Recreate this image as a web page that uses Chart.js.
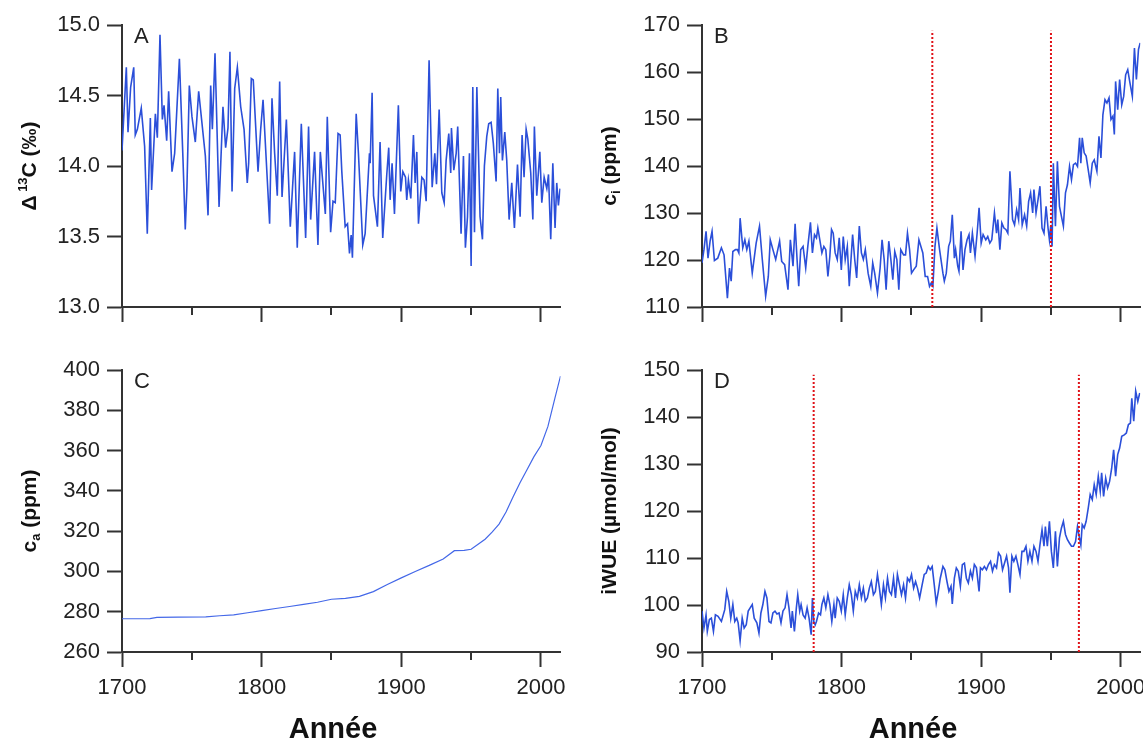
<!DOCTYPE html>
<html><head><meta charset="utf-8">
<script src="https://cdn.jsdelivr.net/npm/chart.js@4.4.1/dist/chart.umd.min.js"></script>
<style>
html,body{margin:0;padding:0;background:#fff;width:1143px;height:740px;overflow:hidden;}
canvas{position:absolute;}
</style></head><body>
<canvas id="cA" width="571" height="330" style="left:0;top:0;width:571px;height:330px"></canvas>
<canvas id="cB" width="572" height="330" style="left:571px;top:0;width:572px;height:330px"></canvas>
<canvas id="cC" width="571" height="410" style="left:0;top:330px;width:571px;height:410px"></canvas>
<canvas id="cD" width="572" height="410" style="left:571px;top:330px;width:572px;height:410px"></canvas>
<script>
// ---------- DATA ----------
const xTicks = [1700, 1750, 1800, 1850, 1900, 1950, 2000];
const minorX = [1750, 1850, 1950];

// Panel A : Delta13C (permil)
const yearsA = [
1700.0,1703.1,1704.3,1706.2,1708.4,1709.5,1711.0,1713.8,1716.2,1718.1,
1720.3,1721.2,1723.9,1725.3,1727.2,1728.9,1730.1,1732.0,1733.4,1735.8,
1737.7,1741.1,1743.7,1745.3,1746.5,1748.2,1750.1,1752.5,1754.9,1759.7,
1761.6,1763.5,1764.7,1766.6,1769.5,1772.3,1774.2,1775.9,1777.3,1778.8,
1780.7,1782.6,1785.0,1787.4,1789.7,1790.7,1792.6,1794.0,1797.4,1799.3,
1801.0,1805.7,1807.4,1809.3,1811.2,1812.9,1814.6,1817.7,1820.5,1823.6,
1825.5,1828.4,1831.5,1833.6,1835.1,1837.9,1840.3,1842.0,1845.6,1847.0,
1849.4,1851.1,1852.7,1854.7,
1856.2,1857.4,1859.8,1861.5,1862.9,1864.1,1865.0,1867.7,1869.3,1872.4,
1874.1,1877.2,1877.7,1879.1,1880.1,1882.9,1884.8,1886.7,1889.6,1891.0,
1892.0,1893.4,1895.1,1897.9,1899.6,1901.1,1903.0,1903.9,1905.1,1906.8,
1908.7,1909.9,1911.1,1912.3,1914.7,1916.3,1917.8,1919.9,1922.1,1924.0,
1925.2,1927.1,1929.0,1930.7,1932.1,1934.0,1935.4,1935.9,1937.6,1939.3,
1940.4,1942.8,1944.5,1945.9,1947.4,1948.8,1950.0,1951.2,1952.4,1954.1,
1956.4,1958.1,1959.5,1961.2,1962.6,1964.3,1965.9,1967.9,1969.1,1970.3,
1971.2,1972.4,1974.1,1975.5,1977.2,1979.1,1981.0,1983.2,1985.1,1986.5,
1987.9,1989.4,1990.6,1992.7,1994.2,1995.3,1997.0,1999.2,2000.6,2002.3,
2004.2,2005.4,2007.0,2008.5,2010.1,2011.3,2012.5,2013.7];
const d13C = [
14.11,14.70,14.24,14.56,14.70,14.22,14.26,14.41,14.14,13.52,
14.34,13.83,14.37,14.20,14.93,14.33,14.43,14.18,14.53,13.96,
14.09,14.76,14.04,13.55,13.85,14.57,14.35,14.17,14.53,14.07,
13.65,14.57,14.26,14.80,13.71,14.42,14.13,14.27,14.81,13.82,
14.55,14.70,14.42,14.26,13.88,14.02,14.62,14.61,13.96,14.26,
14.47,13.59,14.48,14.09,13.79,14.60,13.78,14.33,13.57,14.10,
13.42,14.30,13.49,14.28,13.62,14.10,13.44,14.10,13.66,14.35,
13.53,13.75,13.74,14.23,
14.22,13.96,13.57,13.59,13.38,13.51,13.35,14.37,14.09,13.44,
13.52,14.09,14.02,14.52,13.79,13.57,14.17,13.49,13.94,14.13,
13.76,14.02,13.66,14.43,13.82,13.96,13.92,13.76,13.90,13.77,
14.22,13.88,14.10,13.59,13.92,13.90,13.75,14.75,13.85,14.09,
13.87,14.40,13.81,13.74,14.04,14.23,13.95,14.27,13.97,14.09,
14.28,13.52,14.07,13.42,13.64,14.09,13.29,14.56,13.53,14.56,
13.64,13.48,14.00,14.21,14.30,14.31,14.16,13.89,14.55,14.09,
14.49,14.04,14.24,14.04,13.62,13.88,13.56,14.01,13.64,14.22,
13.92,14.26,14.19,13.95,13.62,14.28,13.79,14.10,13.74,13.92,
13.84,13.94,13.48,14.02,13.56,13.88,13.72,13.84];
const yTicksA = [13.0, 13.5, 14.0, 14.5, 15.0];

// Panel B : ci (ppm)
const yearsB = [
1700.0,1701.4,1702.9,1704.3,1705.8,1707.2,1708.9,1711.3,1713.9,1715.8,
1718.2,1719.7,1720.9,1722.1,1724.0,1725.4,1726.4,1727.3,1729.2,1730.7,
1732.1,1733.6,1736.0,1738.8,1741.2,1743.2,1745.6,1747.5,1748.9,1750.8,
1752.8,1755.6,1757.1,1759.2,1761.6,1763.3,1765.2,1766.7,1768.1,1769.3,
1770.7,1772.4,1774.3,1775.8,1777.7,1779.1,1780.6,1782.0,1783.0,1784.4,
1785.9,1787.3,1788.7,1790.2,1791.6,1792.8,1794.0,1795.4,1796.9,1798.3,
1799.8,1801.2,1802.6,1804.1,1805.5,1807.9,1809.4,1810.8,1812.7,1814.2,
1815.6,1817.0,1819.0,1820.9,1822.3,1823.7,1825.7,1827.6,1829.0,1830.5,
1831.9,1833.8,1835.3,1836.7,1838.1,1839.6,1841.0,1842.4,1844.4,1845.8,
1847.2,1848.7,1850.1,1851.6,1853.5,1855.4,
1858.2,1859.9,1861.6,1863.0,1864.2,1865.4,1866.9,1868.3,1870.2,1872.6,
1873.6,1875.0,1876.7,1877.9,1879.3,1880.8,1881.7,1883.2,1884.1,1885.6,
1887.0,1888.4,1889.9,1891.3,1892.3,1893.7,1895.6,1897.1,1898.5,1900.0,
1901.4,1903.3,1904.7,1906.2,1907.6,1909.5,1911.0,1911.9,1913.4,1914.8,
1916.3,1917.7,1919.1,1920.6,1922.5,1923.9,1925.4,1926.8,1927.8,1929.4,
1931.1,1932.6,1934.0,1935.4,1936.9,1937.8,1939.3,1940.7,1942.1,1943.6,
1945.0,1946.5,1947.9,1948.9,1949.8,1950.8,1951.7,1953.2,1954.6,1956.1,
1957.5,1958.9,1960.4,1961.8,1963.3,1964.7,1966.1,1967.6,1969.0,1970.5,
1971.4,1972.4,1973.8,1975.2,1976.7,1978.1,1979.6,1981.0,1982.9,1984.4,
1985.8,1987.2,1988.7,1990.1,1991.6,1993.0,1994.4,1995.4,1996.3,1997.8,
1999.2,2000.7,2002.1,2003.5,2005.0,2006.4,2008.3,2009.8,2011.2,2012.7,
2013.9];
const ci = [
119.4,122.2,126.1,120.4,124.0,126.1,119.9,120.4,122.6,121.1,
111.9,118.3,115.5,121.8,122.2,122.2,121.5,128.9,122.6,124.3,
122.2,124.0,117.2,123.6,127.2,120.1,112.3,116.5,124.3,122.2,
120.1,124.0,119.7,119.0,113.7,124.3,118.7,127.7,120.1,114.4,
122.2,122.9,118.3,122.9,128.0,121.5,125.4,124.7,126.8,124.3,
121.5,122.9,122.2,116.5,120.8,126.5,125.7,121.5,120.1,124.7,
117.9,125.0,120.1,122.9,114.4,125.4,120.1,116.2,127.2,121.5,
120.1,122.2,117.2,114.4,119.4,117.2,113.0,118.3,124.3,120.1,
113.7,124.0,120.1,115.8,121.8,120.1,113.7,122.2,121.1,121.1,
125.7,122.2,117.2,117.9,118.7,124.3,
121.5,116.5,116.5,114.4,115.1,114.4,122.9,126.8,122.2,117.2,
115.5,117.2,122.9,124.0,129.6,120.4,122.2,118.7,117.6,126.1,
117.9,122.2,124.3,125.4,121.5,125.7,120.8,125.7,131.1,123.6,
125.4,124.3,125.0,123.6,124.3,130.0,125.7,128.6,122.2,127.9,
126.8,126.5,125.7,138.9,128.6,127.5,130.7,128.6,135.3,127.5,
129.6,127.2,132.5,134.3,130.0,135.0,130.0,132.8,135.7,126.8,
125.7,131.4,126.8,124.3,127.2,122.9,140.6,127.2,141.0,131.4,
129.3,127.2,134.3,136.0,139.9,137.1,140.3,140.6,139.9,146.0,
140.6,146.0,142.8,142.1,139.2,136.4,140.6,141.3,138.9,146.3,
141.7,150.9,154.1,153.4,154.5,149.9,150.6,146.7,158.0,152.0,
158.4,153.0,154.8,159.4,160.5,158.0,154.8,165.1,158.4,164.8,
166.2];
const yTicksB = [110, 120, 130, 140, 150, 160, 170];
const markerYearsB = [1865, 1950];
const markerSpanB = [110, 168.8];

// Panel C : ca (ppm)
const yearsC = [1700,1720,1725,1740,1760,1770,1780,1790,1800,1810,1820,1830,1840,1850,1860,1870,1880,1890,1900,1910,1920,1930,1938,1945,1950,1955,1960,1965,1970,1975,1980,1985,1990,1995,2000,2005,2010,2014];
const ca = [276.5,276.6,277.2,277.3,277.4,278.0,278.4,279.5,280.5,281.6,282.6,283.6,284.7,286.2,286.6,287.6,290.0,293.5,296.8,300.0,303.0,306.2,310.3,310.5,311.0,313.5,316.0,319.5,323.5,329.5,337.0,344.0,350.5,357.0,362.5,372.0,386.0,397.0];
const yTicksC = [260, 280, 300, 320, 340, 360, 380, 400];

// Panel D : iWUE (umol/mol)
const yearsD = [
1700.0,1701.4,1702.9,1703.8,1705.3,1706.7,1708.2,1709.6,1711.5,1713.9,
1716.3,1717.7,1719.2,1720.6,1722.1,1723.5,1724.9,1725.9,1727.3,1728.8,
1730.2,1731.7,1733.1,1734.5,1736.0,1737.4,1739.3,1740.8,1742.2,1743.6,
1745.1,1746.5,1748.0,1749.4,1750.8,1752.3,1753.7,1755.2,1756.6,1758.0,
1759.5,1760.9,1762.3,1763.8,1764.7,1766.2,1767.6,1768.6,1770.0,1771.0,
1772.4,1773.9,1775.3,1776.7,1778.2,1779.1,1780.1,1781.1,1782.0,1783.5,
1784.9,1785.9,1787.3,1788.7,1790.2,1791.6,1793.0,1794.5,1795.4,1796.9,
1798.3,1799.8,1801.2,1802.6,1804.1,1805.5,1807.0,1808.4,1809.8,1811.3,
1812.7,1814.2,1815.6,1817.0,1818.5,1819.9,1821.3,1822.8,1824.2,1825.7,
1827.1,1828.5,1830.0,1831.4,1832.9,1834.3,1835.7,1837.2,1838.6,1840.0,
1841.5,1842.9,1844.4,1845.8,1847.2,1848.7,1850.1,1851.6,1853.0,1854.4,
1855.9,
1857.7,1859.2,1860.6,1862.1,1863.5,1864.9,1866.4,1867.8,1869.3,1870.7,
1872.6,1874.0,1875.5,1876.9,1878.4,1879.3,1880.8,1882.2,1883.6,1885.1,
1886.5,1888.0,1889.4,1890.8,1892.3,1893.7,1895.1,1896.6,1898.5,1899.5,
1900.9,1902.3,1903.8,1905.2,1906.7,1908.1,1909.5,1911.0,1912.4,1913.9,
1915.3,1916.7,1918.2,1919.6,1920.6,1922.0,1923.4,1924.9,1926.3,1927.8,
1929.2,1930.6,1932.1,1933.5,1934.9,1936.4,1937.8,1939.3,1940.7,1942.1,
1943.6,1945.0,1946.0,1947.4,1948.9,1950.3,1951.7,1953.2,1954.6,1956.1,
1957.5,1958.9,1960.4,1961.8,1963.2,1964.7,1966.1,1967.6,1969.0,1970.4,
1971.4,1972.4,1973.8,1975.2,1976.7,1978.1,1979.6,1981.0,1982.4,1983.9,
1985.3,1986.3,1987.7,1989.2,1990.6,1992.0,1993.5,1994.9,1996.3,1997.8,
1999.2,2000.7,2002.5,2004.0,2005.5,2006.9,2007.9,2009.3,2010.7,2012.2,
2013.6];
const iwue = [
98.7,95.1,97.9,94.4,96.9,97.2,94.4,97.9,97.6,96.5,
99.0,102.9,100.8,97.2,100.1,96.5,97.2,96.2,92.4,97.2,
95.1,95.8,98.7,99.4,100.1,97.2,96.2,94.0,98.3,100.1,
102.9,101.5,96.5,96.2,98.3,98.7,98.1,98.3,96.2,98.7,
99.4,102.2,99.4,95.1,98.7,94.4,99.4,102.2,98.7,100.1,
97.9,97.2,99.4,97.2,93.7,101.5,96.5,95.8,96.5,98.3,
97.9,100.1,101.5,99.4,102.2,100.1,96.5,100.1,97.2,101.5,
100.8,98.7,102.2,97.9,101.5,104.3,102.2,98.7,102.9,101.5,
104.3,101.5,103.6,100.8,101.5,103.6,105.0,102.2,102.9,106.5,
103.6,100.1,104.3,101.5,105.7,102.9,102.2,105.7,101.5,106.5,
104.3,102.2,104.3,101.5,105.7,105.0,106.5,103.6,105.0,103.6,
101.5,
104.3,106.5,106.8,108.2,107.5,108.2,104.3,100.4,102.9,105.7,
108.2,107.5,105.0,102.9,104.0,100.2,105.7,107.9,107.2,104.0,
108.6,108.9,105.7,104.7,107.2,105.7,108.6,107.9,102.9,107.9,
107.5,108.2,107.5,108.6,109.3,107.2,108.6,107.9,111.1,110.4,
107.5,108.9,110.4,107.9,102.6,110.4,109.3,110.4,108.6,106.5,
111.4,111.4,112.5,109.3,111.4,109.3,112.5,111.4,109.3,112.8,
116.0,112.5,116.7,112.5,117.8,111.4,107.9,115.7,108.2,114.3,
116.4,117.8,115.0,113.9,113.2,112.5,112.5,113.5,116.7,114.3,
112.8,117.1,116.4,117.8,120.6,123.5,122.4,125.6,123.5,127.4,
124.2,128.1,123.1,127.0,124.9,126.3,129.1,133.0,127.4,132.0,
133.4,135.9,136.2,136.6,138.4,138.7,144.0,139.1,145.5,143.3,
145.1];
const yTicksD = [90, 100, 110, 120, 130, 140, 150];
const markerYearsD = [1780, 1970];
const markerSpanD = [90, 149.0];

// ---------- STYLE / DRAWING ----------
const FONT = '"Liberation Sans", Arial, Helvetica, sans-serif';
const AXIS = '#333333';
const TXT = '#222222';

function drawRich(ctx, runs, cx, cy) {
  ctx.save();
  ctx.translate(cx, cy);
  ctx.rotate(-Math.PI / 2);
  ctx.textBaseline = 'middle';
  ctx.textAlign = 'left';
  ctx.fillStyle = '#111';
  let total = 0;
  runs.forEach(r => { ctx.font = 'bold ' + r.size + 'px ' + FONT; r.w = ctx.measureText(r.t).width; total += r.w; });
  let x = -total / 2;
  runs.forEach(r => { ctx.font = 'bold ' + r.size + 'px ' + FONT; ctx.fillText(r.t, x, r.dy || 0); x += r.w; });
  ctx.restore();
}

function decor(o) {
  return {
    id: 'decor' + o.letter,
    afterDraw(chart) {
      const ctx = chart.ctx, a = chart.chartArea, xs = chart.scales.x;
      ctx.save();
      ctx.strokeStyle = AXIS; ctx.lineWidth = 2;
      minorX.forEach(v => {
        const px = Math.round(xs.getPixelForValue(v));
        ctx.beginPath(); ctx.moveTo(px, a.bottom); ctx.lineTo(px, a.bottom + 8); ctx.stroke();
      });
      ctx.fillStyle = TXT;
      ctx.font = '22px ' + FONT;
      ctx.textAlign = 'left'; ctx.textBaseline = 'alphabetic';
      ctx.fillText(o.letter, a.left + 12, a.top + 18);
      drawRich(ctx, o.title, a.left - 92, (a.top + a.bottom) / 2);
      if (o.xTitle) {
        ctx.font = 'bold 29px ' + FONT;
        ctx.textAlign = 'center'; ctx.fillStyle = '#111';
        ctx.fillText(o.xTitle, a.left + 211, chart.height - 2);
      }
      ctx.restore();
    }
  };
}

function panel(id, o) {
  const datasets = [];
  (o.markers || []).forEach(yr => {
    datasets.push({
      data: [{ x: yr, y: o.markerSpan[0] }, { x: yr, y: o.markerSpan[1] }],
      borderColor: '#e01218', borderWidth: 2, borderDash: [2, 2],
      pointRadius: 0, order: 0
    });
  });
  datasets.push({
    data: o.xs.map((x, i) => ({ x: x, y: o.ys[i] })),
    borderColor: o.color, borderWidth: o.lw, pointRadius: 0, tension: 0, fill: false, order: 1
  });
  return new Chart(document.getElementById(id), {
    type: 'line',
    data: { datasets },
    options: {
      responsive: false, animation: false, devicePixelRatio: 1,
      layout: { padding: { top: o.padTop, right: o.padRight, left: 0, bottom: 0 } },
      plugins: { legend: { display: false }, tooltip: { enabled: false } },
      scales: {
        x: {
          type: 'linear', min: 1700, max: 2014,
          afterBuildTicks: s => { s.ticks = xTicks.map(v => ({ value: v })); },
          afterFit: s => { s.height = o.xHeight; s.paddingLeft = 0; s.paddingRight = 0; },
          grid: {
            drawOnChartArea: false, drawTicks: true, tickLength: 15, tickWidth: 2,
            tickColor: c => (c.tick && c.tick.value % 100 === 0) ? AXIS : 'rgba(0,0,0,0)'
          },
          border: { display: true, color: AXIS, width: 2 },
          ticks: {
            autoSkip: false, maxRotation: 0, minRotation: 0, padding: 8, color: TXT,
            font: { family: FONT, size: 22 },
            callback: v => (o.xLabels && v % 100 === 0) ? String(v) : ''
          }
        },
        y: {
          type: 'linear', min: o.ymin, max: o.ymax,
          afterBuildTicks: s => { s.ticks = o.yTicks.map(v => ({ value: v })); },
          afterFit: s => { s.width = o.yWidth; s.paddingTop = 0; s.paddingBottom = 0; },
          grid: { drawOnChartArea: false, drawTicks: true, tickLength: 15, tickWidth: 2, tickColor: AXIS },
          border: { display: true, color: AXIS, width: 2 },
          ticks: {
            padding: 7, color: TXT, font: { family: FONT, size: 22 },
            callback: v => o.fmt(v)
          }
        }
      }
    },
    plugins: [decor(o)]
  });
}

const BLUE = '#2b4fd9';

panel('cA', {
  letter: 'A', xs: yearsA, ys: d13C, color: BLUE, lw: 1.6,
  ymin: 13, ymax: 15, yTicks: yTicksA, fmt: v => v.toFixed(1),
  padTop: 25, padRight: 10.5, xHeight: 23, yWidth: 122, xLabels: false,
  title: [{ t: 'Δ', size: 21 }, { t: ' 13', size: 13, dy: -7 }, { t: 'C (‰)', size: 21 }]
});
panel('cB', {
  letter: 'B', xs: yearsB, ys: ci, color: BLUE, lw: 1.6,
  ymin: 110, ymax: 170, yTicks: yTicksB, fmt: v => String(v),
  padTop: 25, padRight: 2.7, xHeight: 23, yWidth: 131, xLabels: false,
  markers: markerYearsB, markerSpan: markerSpanB,
  title: [{ t: 'c', size: 21 }, { t: 'i', size: 13, dy: 6 }, { t: ' (ppm)', size: 21 }]
});
panel('cC', {
  letter: 'C', xs: yearsC, ys: ca, color: '#4468e8', lw: 1.2,
  ymin: 260, ymax: 400, yTicks: yTicksC, fmt: v => String(v),
  padTop: 40, padRight: 10.5, xHeight: 88, yWidth: 122, xLabels: true, xTitle: 'Année',
  title: [{ t: 'c', size: 21 }, { t: 'a', size: 13, dy: 6 }, { t: ' (ppm)', size: 21 }]
});
panel('cD', {
  letter: 'D', xs: yearsD, ys: iwue, color: BLUE, lw: 1.6,
  ymin: 90, ymax: 150, yTicks: yTicksD, fmt: v => String(v),
  padTop: 40, padRight: 2.7, xHeight: 88, yWidth: 131, xLabels: true, xTitle: 'Année',
  markers: markerYearsD, markerSpan: markerSpanD,
  title: [{ t: 'iWUE (µmol/mol)', size: 21 }]
});
</script>
</body></html>
